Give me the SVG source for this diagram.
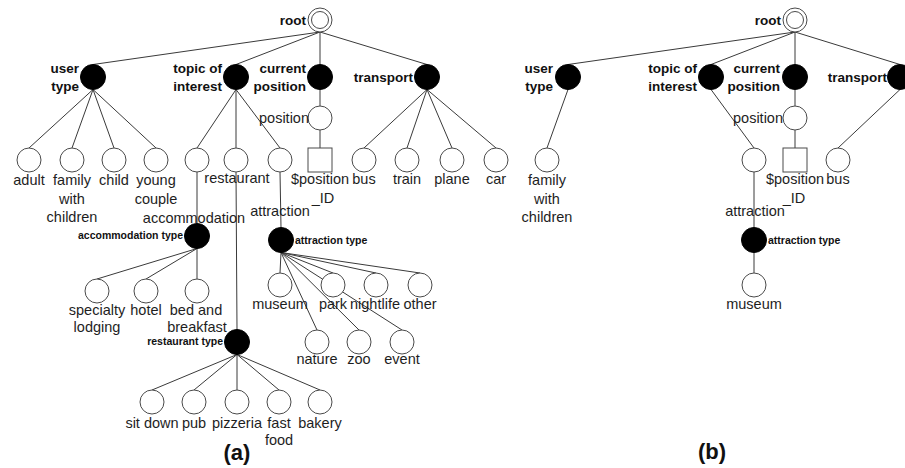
<svg xmlns="http://www.w3.org/2000/svg" width="905" height="468" viewBox="0 0 905 468">
<style>
.e{stroke:#3a3a3a;stroke-width:1;fill:none}
.c{fill:#fff;stroke:#4a4a4a;stroke-width:1}
.k{fill:#000;stroke:#000;stroke-width:1}
.t{font-family:"Liberation Sans",Arial,sans-serif;font-size:14.5px;fill:#1e1e1e;text-anchor:middle}
.b{font-family:"Liberation Sans",Arial,sans-serif;font-size:13.5px;font-weight:bold;fill:#111;text-anchor:end}
.s{font-family:"Liberation Sans",Arial,sans-serif;font-size:10.5px;font-weight:bold;fill:#111}
.cap{font-family:"Liberation Sans",Arial,sans-serif;font-size:22px;font-weight:bold;fill:#111;text-anchor:middle}
</style>
<rect width="905" height="468" fill="#fff"/>
<g id="connectors">
<!-- (a) root -->
<line class="e" x1="320" y1="32" x2="93" y2="64.5"/>
<line class="e" x1="320" y1="32" x2="236" y2="64.5"/>
<line class="e" x1="320" y1="32" x2="320" y2="64.5"/>
<line class="e" x1="320" y1="32" x2="427" y2="64.5"/>
<!-- user type -->
<line class="e" x1="93" y1="89.5" x2="29" y2="148"/>
<line class="e" x1="93" y1="89.5" x2="72" y2="148"/>
<line class="e" x1="93" y1="89.5" x2="114" y2="148"/>
<line class="e" x1="93" y1="89.5" x2="156" y2="148"/>
<!-- topic -->
<line class="e" x1="236" y1="89.5" x2="197" y2="148"/>
<line class="e" x1="236" y1="89.5" x2="236" y2="148"/>
<line class="e" x1="236" y1="89.5" x2="280" y2="148"/>
<!-- current position -->
<line class="e" x1="320" y1="89.5" x2="320" y2="106"/>
<line class="e" x1="320" y1="130" x2="320" y2="148"/>
<!-- transport -->
<line class="e" x1="427" y1="89.5" x2="364" y2="148"/>
<line class="e" x1="427" y1="89.5" x2="407" y2="148"/>
<line class="e" x1="427" y1="89.5" x2="452" y2="148"/>
<line class="e" x1="427" y1="89.5" x2="496" y2="148"/>
<!-- accommodation -->
<line class="e" x1="197" y1="172" x2="197" y2="223.5"/>
<line class="e" x1="197" y1="248.5" x2="97" y2="279"/>
<line class="e" x1="197" y1="248.5" x2="146" y2="279"/>
<line class="e" x1="197" y1="248.5" x2="197" y2="279"/>
<!-- restaurant -->
<line class="e" x1="236" y1="172" x2="237" y2="329.5"/>
<line class="e" x1="237" y1="354.5" x2="152" y2="390"/>
<line class="e" x1="237" y1="354.5" x2="194" y2="390"/>
<line class="e" x1="237" y1="354.5" x2="237" y2="390"/>
<line class="e" x1="237" y1="354.5" x2="279" y2="390"/>
<line class="e" x1="237" y1="354.5" x2="320" y2="390"/>
<!-- attraction -->
<line class="e" x1="280" y1="172" x2="281" y2="227.5"/>
<line class="e" x1="281" y1="252.5" x2="280" y2="273"/>
<line class="e" x1="281" y1="252.5" x2="333" y2="273"/>
<line class="e" x1="281" y1="252.5" x2="376" y2="273"/>
<line class="e" x1="281" y1="252.5" x2="420" y2="273"/>
<line class="e" x1="281" y1="252.5" x2="317" y2="330"/>
<line class="e" x1="281" y1="252.5" x2="359" y2="330"/>
<line class="e" x1="281" y1="252.5" x2="402" y2="330"/>
<!-- (b) -->
<line class="e" x1="795" y1="32" x2="568" y2="64.5"/>
<line class="e" x1="795" y1="32" x2="711" y2="64.5"/>
<line class="e" x1="795" y1="32" x2="795" y2="64.5"/>
<line class="e" x1="795" y1="32" x2="900" y2="64.5"/>
<line class="e" x1="568" y1="89.5" x2="547" y2="148"/>
<line class="e" x1="711" y1="89.5" x2="754" y2="148"/>
<line class="e" x1="795" y1="89.5" x2="795" y2="106"/>
<line class="e" x1="795" y1="130" x2="795" y2="148"/>
<line class="e" x1="900" y1="89.5" x2="838" y2="148"/>
<line class="e" x1="754" y1="172" x2="754" y2="227.5"/>
<line class="e" x1="754" y1="252.5" x2="754" y2="273"/>
</g>

<!-- ===== (a) ===== -->
<g id="a-root"><circle class="c" cx="320" cy="20" r="12"/><circle class="c" cx="320" cy="20" r="8.5"/><text class="b" x="306" y="25">root</text></g>
<g id="a-usertype"><circle class="k" cx="93" cy="77" r="12.5"/><text class="b" x="79" y="73">user</text><text class="b" x="79" y="91">type</text></g>
<g id="a-topic"><circle class="k" cx="236" cy="77" r="12.5"/><text class="b" x="222" y="73">topic of</text><text class="b" x="222" y="91">interest</text></g>
<g id="a-current"><circle class="k" cx="320" cy="77" r="12.5"/><text class="b" x="306" y="73">current</text><text class="b" x="306" y="91">position</text></g>
<g id="a-transport"><circle class="k" cx="427" cy="77" r="12.5"/><text class="b" x="413" y="82">transport</text></g>

<g id="a-adult"><circle class="c" cx="29" cy="160" r="12"/><text class="t" x="29" y="185">adult</text></g>
<g id="a-family"><circle class="c" cx="72" cy="160" r="12"/><text class="t" x="72" y="185">family</text><text class="t" x="72" y="204">with</text><text class="t" x="72" y="222">children</text></g>
<g id="a-child"><circle class="c" cx="114" cy="160" r="12"/><text class="t" x="114" y="185">child</text></g>
<g id="a-young"><circle class="c" cx="156" cy="160" r="12"/><text class="t" x="156" y="185">young</text><text class="t" x="156" y="204">couple</text></g>

<g id="a-accommodation"><circle class="c" cx="197" cy="160" r="12"/><text class="t" x="194" y="223">accommodation</text></g>
<g id="a-restaurant"><circle class="c" cx="236" cy="160" r="12"/><text class="t" x="237" y="183">restaurant</text></g>
<g id="a-attraction"><circle class="c" cx="280" cy="160" r="12"/><text class="t" x="280" y="216">attraction</text></g>

<g id="a-position"><circle class="c" cx="320" cy="118" r="12"/><text class="t" x="309" y="123" style="text-anchor:end">position</text></g>
<g id="a-positionid"><rect class="c" x="308" y="148" width="24" height="24"/><text class="t" x="320" y="184">$position</text><text class="t" x="323" y="203">_ID</text></g>

<g id="a-bus"><circle class="c" cx="364" cy="160" r="12"/><text class="t" x="364" y="184">bus</text></g>
<g id="a-train"><circle class="c" cx="407" cy="160" r="12"/><text class="t" x="407" y="184">train</text></g>
<g id="a-plane"><circle class="c" cx="452" cy="160" r="12"/><text class="t" x="452" y="184">plane</text></g>
<g id="a-car"><circle class="c" cx="496" cy="160" r="12"/><text class="t" x="496" y="184">car</text></g>

<g id="a-accommodationtype"><circle class="k" cx="197" cy="236" r="12.5"/><text class="s" x="183" y="239" style="text-anchor:end">accommodation type</text></g>
<g id="a-specialty"><circle class="c" cx="97" cy="291" r="12"/><text class="t" x="97" y="315">specialty</text><text class="t" x="97" y="332">lodging</text></g>
<g id="a-hotel"><circle class="c" cx="146" cy="291" r="12"/><text class="t" x="146" y="315">hotel</text></g>
<g id="a-bedandbreakfast"><circle class="c" cx="197" cy="291" r="12"/><text class="t" x="196" y="315">bed and</text><text class="t" x="197" y="332">breakfast</text></g>

<g id="a-restauranttype"><circle class="k" cx="237" cy="342" r="12.5"/><text class="s" x="223" y="345" style="text-anchor:end">restaurant type</text></g>
<g id="a-sitdown"><circle class="c" cx="152" cy="402" r="12"/><text class="t" x="152" y="428">sit down</text></g>
<g id="a-pub"><circle class="c" cx="194" cy="402" r="12"/><text class="t" x="194" y="428">pub</text></g>
<g id="a-pizzeria"><circle class="c" cx="237" cy="402" r="12"/><text class="t" x="237" y="428">pizzeria</text></g>
<g id="a-fastfood"><circle class="c" cx="279" cy="402" r="12"/><text class="t" x="279" y="428">fast</text><text class="t" x="279" y="445">food</text></g>
<g id="a-bakery"><circle class="c" cx="320" cy="402" r="12"/><text class="t" x="320" y="428">bakery</text></g>

<g id="a-attractiontype"><circle class="k" cx="281" cy="240" r="12.5"/><text class="s" x="295" y="244">attraction type</text></g>
<g id="a-museum"><circle class="c" cx="280" cy="285" r="12"/><text class="t" x="280" y="309">museum</text></g>
<g id="a-park"><circle class="c" cx="333" cy="285" r="12"/><text class="t" x="333" y="309">park</text></g>
<g id="a-nightlife"><circle class="c" cx="376" cy="285" r="12"/><text class="t" x="375" y="309">nightlife</text></g>
<g id="a-other"><circle class="c" cx="420" cy="285" r="12"/><text class="t" x="420" y="309">other</text></g>
<g id="a-nature"><circle class="c" cx="317" cy="342" r="12"/><text class="t" x="317" y="364">nature</text></g>
<g id="a-zoo"><circle class="c" cx="359" cy="342" r="12"/><text class="t" x="359" y="364">zoo</text></g>
<g id="a-event"><circle class="c" cx="402" cy="342" r="12"/><text class="t" x="402" y="364">event</text></g>

<text class="cap" x="237" y="460">(a)</text>

<!-- ===== (b) ===== -->
<g id="b-root"><circle class="c" cx="795" cy="20" r="12"/><circle class="c" cx="795" cy="20" r="8.5"/><text class="b" x="781" y="25">root</text></g>
<g id="b-usertype"><circle class="k" cx="568" cy="77" r="12.5"/><text class="b" x="553" y="73">user</text><text class="b" x="553" y="91">type</text></g>
<g id="b-topic"><circle class="k" cx="711" cy="77" r="12.5"/><text class="b" x="697" y="73">topic of</text><text class="b" x="697" y="91">interest</text></g>
<g id="b-current"><circle class="k" cx="795" cy="77" r="12.5"/><text class="b" x="780" y="73">current</text><text class="b" x="780" y="91">position</text></g>
<g id="b-transport"><circle class="k" cx="900" cy="77" r="12.5"/><text class="b" x="887" y="82">transport</text></g>
<g id="b-family"><circle class="c" cx="547" cy="160" r="12"/><text class="t" x="547" y="185">family</text><text class="t" x="547" y="204">with</text><text class="t" x="547" y="222">children</text></g>
<g id="b-attraction"><circle class="c" cx="754" cy="160" r="12"/><text class="t" x="755" y="216">attraction</text></g>
<g id="b-position"><circle class="c" cx="795" cy="118" r="12"/><text class="t" x="783" y="123" style="text-anchor:end">position</text></g>
<g id="b-positionid"><rect class="c" x="783" y="148" width="24" height="24"/><text class="t" x="795" y="184">$position</text><text class="t" x="794" y="203">_ID</text></g>
<g id="b-bus"><circle class="c" cx="838" cy="160" r="12"/><text class="t" x="838" y="184">bus</text></g>
<g id="b-attractiontype"><circle class="k" cx="754" cy="240" r="12.5"/><text class="s" x="768" y="244">attraction type</text></g>
<g id="b-museum"><circle class="c" cx="754" cy="285" r="12"/><text class="t" x="754" y="309">museum</text></g>

<text class="cap" x="712" y="459">(b)</text>
</svg>
